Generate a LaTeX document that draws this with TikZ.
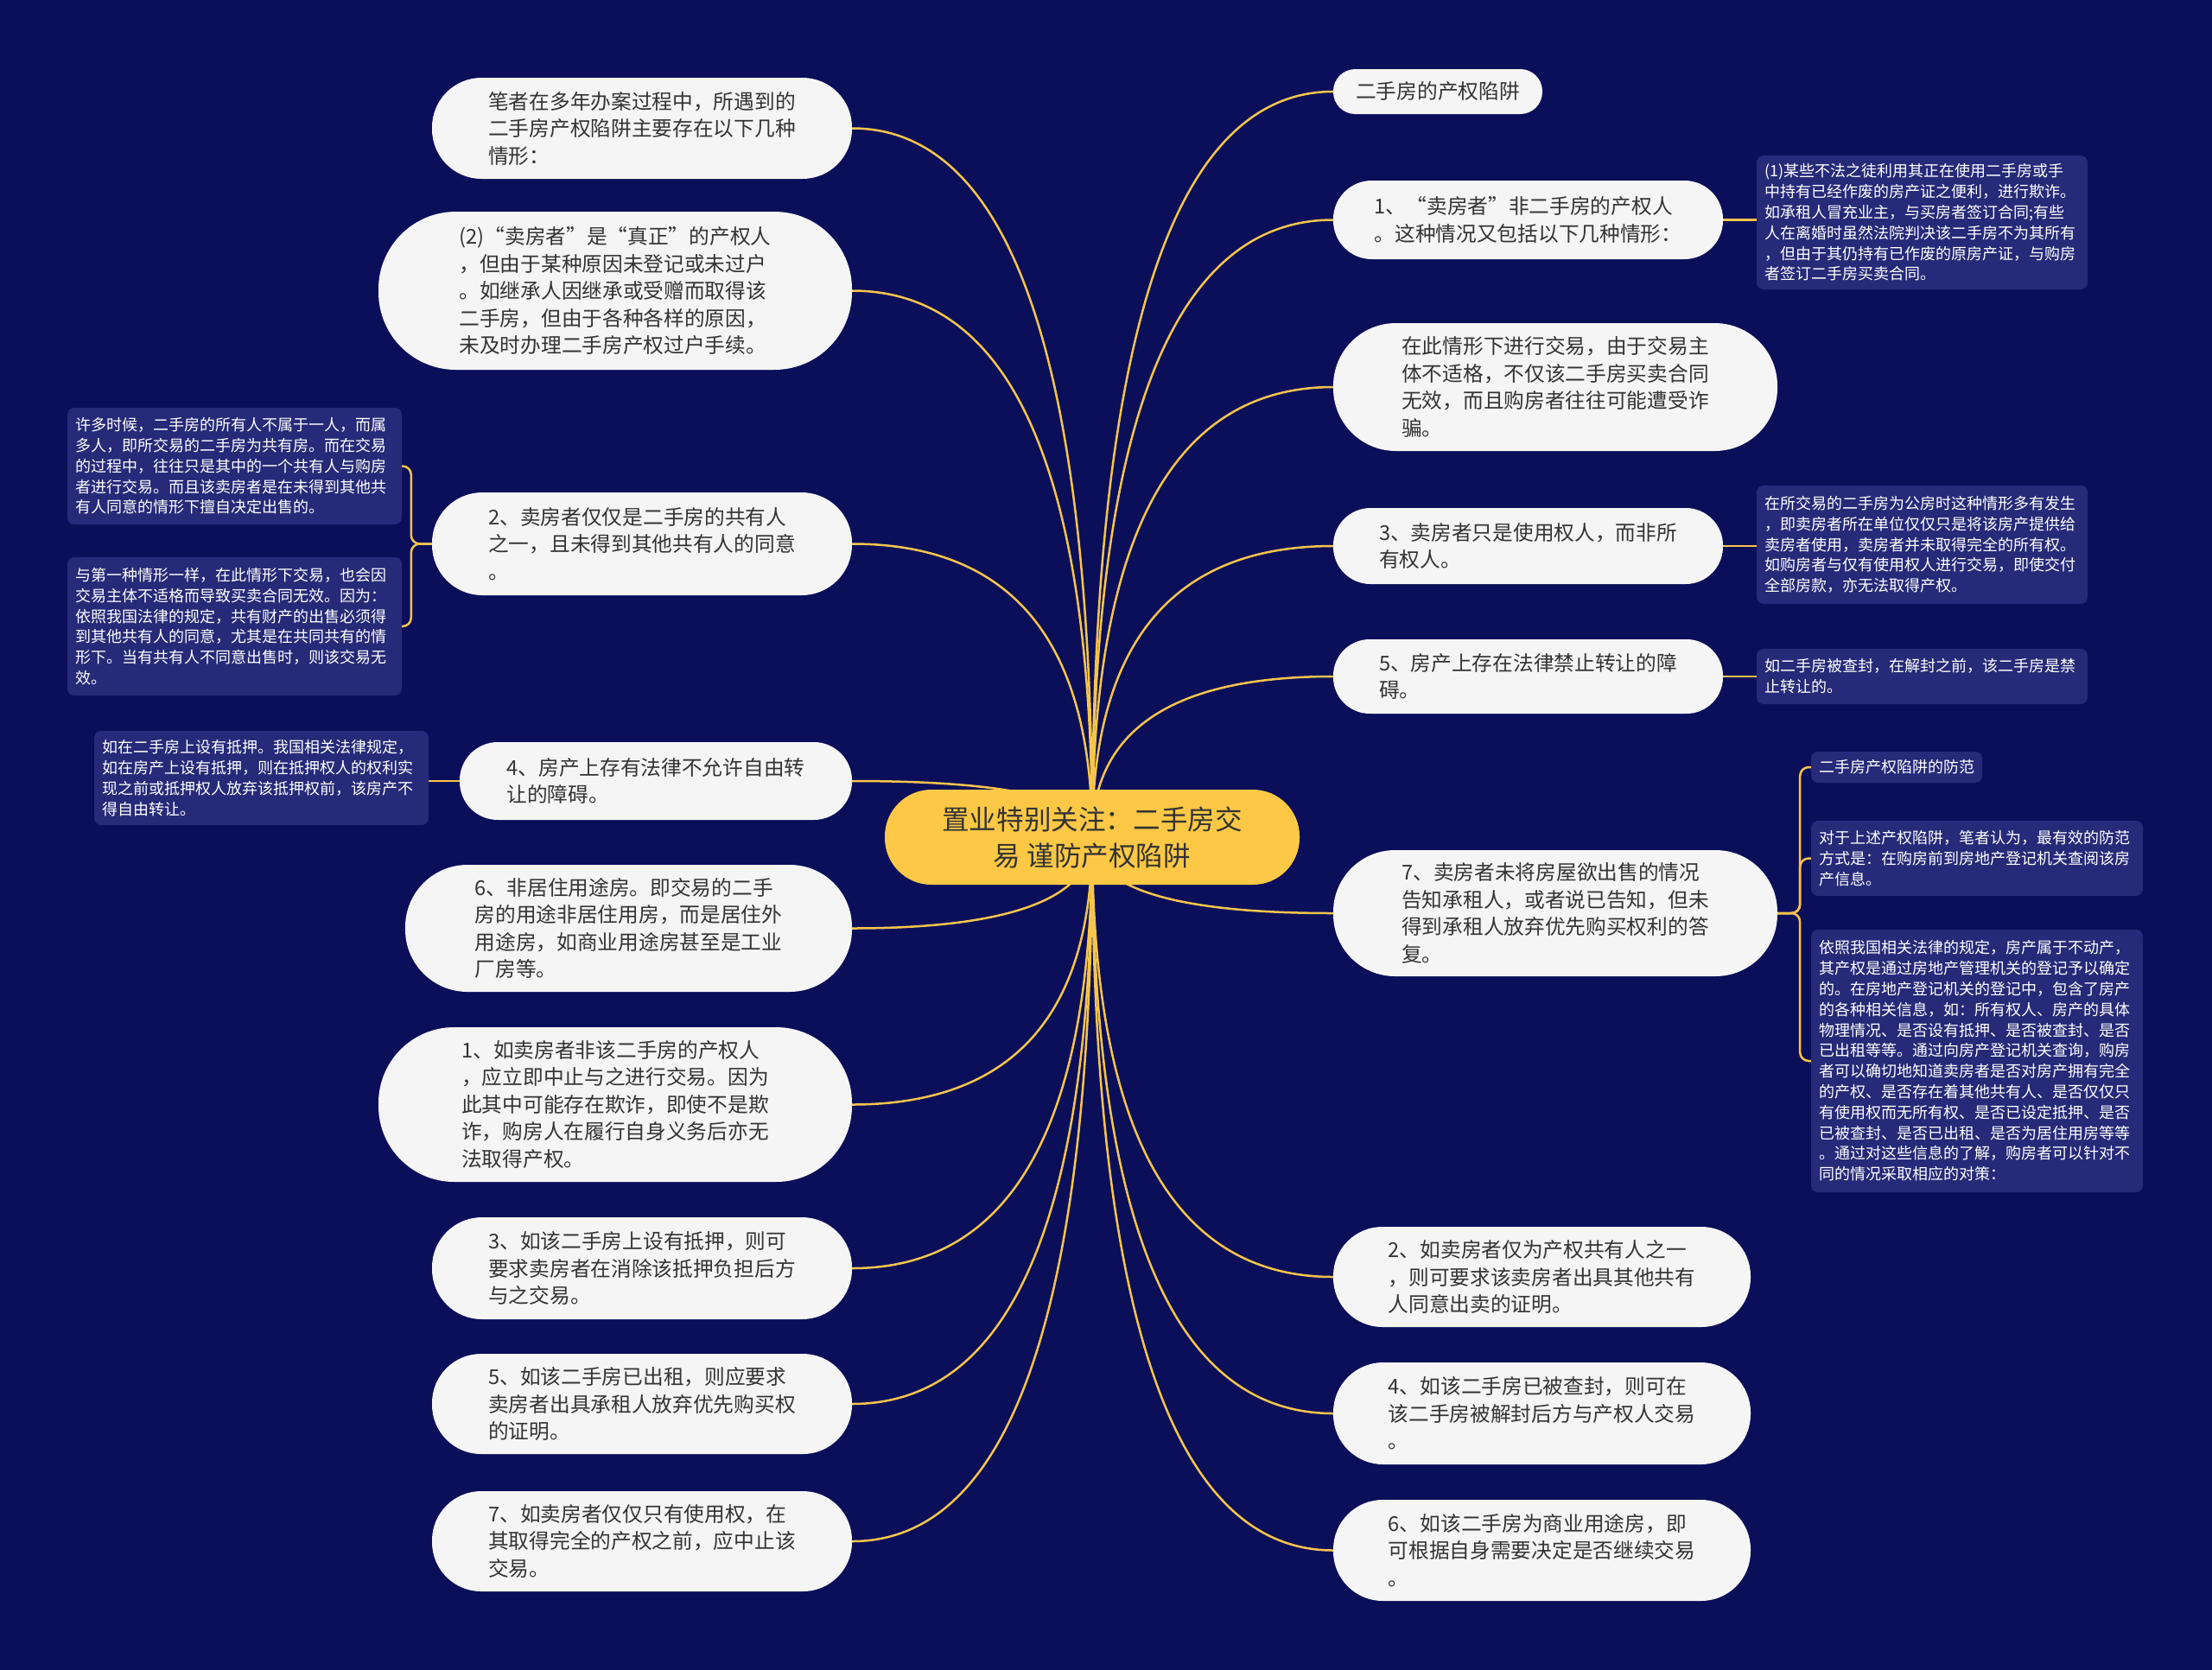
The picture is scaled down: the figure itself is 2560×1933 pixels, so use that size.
\documentclass[tikz,border=0pt]{standalone}
\usepackage{fontspec}
\setmainfont{Noto Sans CJK SC}
\usetikzlibrary{calc}
\definecolor{bgc}{HTML}{0B0F5A}
\definecolor{notec}{HTML}{262A78}
\definecolor{pillc}{HTML}{F5F5F5}
\definecolor{goldc}{HTML}{FCC846}
\definecolor{linec}{HTML}{F7C54C}
\definecolor{txtc}{HTML}{333333}
\pgfdeclarelayer{bgl}
\pgfsetlayers{bgl,main}
\tikzset{
  pill/.style n args={2}{fill=pillc, text=txtc, inner sep=0pt,
    minimum width=#1pt, minimum height=#2pt, rounded corners=#2*0.49pt,
    align=left, font=\fontsize{23.7}{31.5}\selectfont},
  rootbox/.style={fill=goldc, text=txtc, inner sep=0pt,
    minimum width=480pt, minimum height=110pt, rounded corners=54pt,
    align=center, font=\fontsize{31.6}{42}\selectfont},
  notebox/.style={fill=notec, text=white, rounded corners=8pt,
    inner xsep=9pt, inner ysep=0pt, align=left,
    font=\fontsize{18}{23.8}\selectfont},
  link/.style={draw=linec, line width=2.5pt},
}
\newcommand\mmlink[1]{\draw[link] (root.center) .. controls ($(root.center)!0.6667!(root.center |- #1)$) and ($(#1)!0.6667!(root.center |- #1)$) .. (#1);}
\begin{document}
\begin{tikzpicture}[x=1pt,y=-1pt]
\begin{pgfonlayer}{bgl}
\fill[bgc] (0,0) rectangle (2560,1933);
\end{pgfonlayer}
\useasboundingbox (0,0) rectangle (2560,1933);

\node[rootbox] (root) at (1264,969) {置业特别关注：二手房交\\易 谨防产权陷阱};

% left side
\node[pill={486}{117}] (L1) at (743,148.5) {笔者在多年办案过程中，所遇到的\\二手房产权陷阱主要存在以下几种\\情形：};
\node[pill={548}{183}] (L2) at (712,336.5) {(2)“卖房者”是“真正”的产权人\\，但由于某种原因未登记或未过户\\。如继承人因继承或受赠而取得该\\二手房，但由于各种各样的原因，\\未及时办理二手房产权过户手续。};
\node[pill={486}{119}] (L3) at (743,629.5) {2、卖房者仅仅是二手房的共有人\\之一，且未得到其他共有人的同意\\。};
\node[pill={454}{90}] (L4) at (759,904) {4、房产上存有法律不允许自由转\\让的障碍。};
\node[pill={517}{147}] (L5) at (727.5,1074.5) {6、非居住用途房。即交易的二手\\房的用途非居住用房，而是居住外\\用途房，如商业用途房甚至是工业\\厂房等。};
\node[pill={548}{179}] (L6) at (712,1278.5) {1、如卖房者非该二手房的产权人\\，应立即中止与之进行交易。因为\\此其中可能存在欺诈，即使不是欺\\诈，购房人在履行自身义务后亦无\\法取得产权。};
\node[pill={486}{118}] (L7) at (743,1468) {3、如该二手房上设有抵押，则可\\要求卖房者在消除该抵押负担后方\\与之交易。};
\node[pill={486}{116}] (L8) at (743,1625) {5、如该二手房已出租，则应要求\\卖房者出具承租人放弃优先购买权\\的证明。};
\node[pill={486}{116}] (L9) at (743,1784) {7、如卖房者仅仅只有使用权，在\\其取得完全的产权之前，应中止该\\交易。};

% right side
\node[pill={242}{52}] (R1) at (1664,106) {二手房的产权陷阱};
\node[pill={451}{91}] (R2) at (1768.5,254.5) {1、“卖房者”非二手房的产权人\\。这种情况又包括以下几种情形：};
\node[pill={514}{148}] (R3) at (1800,448) {在此情形下进行交易，由于交易主\\体不适格，不仅该二手房买卖合同\\无效，而且购房者往往可能遭受诈\\骗。};
\node[pill={451}{88}] (R4) at (1768.5,632) {3、卖房者只是使用权人，而非所\\有权人。};
\node[pill={451}{86}] (R5) at (1768.5,783) {5、房产上存在法律禁止转让的障\\碍。};
\node[pill={514}{146}] (R6) at (1800,1057) {7、卖房者未将房屋欲出售的情况\\告知承租人，或者说已告知，但未\\得到承租人放弃优先购买权利的答\\复。};
\node[pill={483}{116}] (R7) at (1784.5,1478) {2、如卖房者仅为产权共有人之一\\，则可要求该卖房者出具其他共有\\人同意出卖的证明。};
\node[pill={483}{118}] (R8) at (1784.5,1636) {4、如该二手房已被查封，则可在\\该二手房被解封后方与产权人交易\\。};
\node[pill={483}{117}] (R9) at (1784.5,1794.5) {6、如该二手房为商业用途房，即\\可根据自身需要决定是否继续交易\\。};

% notes
\node[notebox, text width=365pt, minimum height=155pt] (N1) at (2224.5,257.5) {(1)某些不法之徒利用其正在使用二手房或手\\中持有已经作废的房产证之便利，进行欺诈。\\如承租人冒充业主，与买房者签订合同;有些\\人在离婚时虽然法院判决该二手房不为其所有\\，但由于其仍持有已作废的原房产证，与购房\\者签订二手房买卖合同。};
\node[notebox, text width=365pt, minimum height=137pt] (N2) at (2224.5,630.5) {在所交易的二手房为公房时这种情形多有发生\\，即卖房者所在单位仅仅只是将该房产提供给\\卖房者使用，卖房者并未取得完全的所有权。\\如购房者与仅有使用权人进行交易，即使交付\\全部房款，亦无法取得产权。};
\node[notebox, text width=365pt, minimum height=64pt] (N3) at (2224.5,783) {如二手房被查封，在解封之前，该二手房是禁\\止转让的。};
\node[notebox, text width=180pt, minimum height=36pt] (N4) at (2195,888) {二手房产权陷阱的防范};
\node[notebox, text width=366pt, minimum height=87pt] (N5) at (2288,993.5) {对于上述产权陷阱，笔者认为，最有效的防范\\方式是：在购房前到房地产登记机关查阅该房\\产信息。};
\node[notebox, text width=366pt, minimum height=304pt] (N6) at (2288,1228) {依照我国相关法律的规定，房产属于不动产，\\其产权是通过房地产管理机关的登记予以确定\\的。在房地产登记机关的登记中，包含了房产\\的各种相关信息，如：所有权人、房产的具体\\物理情况、是否设有抵押、是否被查封、是否\\已出租等等。通过向房产登记机关查询，购房\\者可以确切地知道卖房者是否对房产拥有完全\\的产权、是否存在着其他共有人、是否仅仅只\\有使用权而无所有权、是否已设定抵押、是否\\已被查封、是否已出租、是否为居住用房等等\\。通过对这些信息的了解，购房者可以针对不\\同的情况采取相应的对策：};
\node[notebox, text width=369pt, minimum height=135pt] (N7) at (271.5,539.5) {许多时候，二手房的所有人不属于一人，而属\\多人，即所交易的二手房为共有房。而在交易\\的过程中，往往只是其中的一个共有人与购房\\者进行交易。而且该卖房者是在未得到其他共\\有人同意的情形下擅自决定出售的。};
\node[notebox, text width=369pt, minimum height=160pt] (N8) at (271.5,725) {与第一种情形一样，在此情形下交易，也会因\\交易主体不适格而导致买卖合同无效。因为：\\依照我国法律的规定，共有财产的出售必须得\\到其他共有人的同意，尤其是在共同共有的情\\形下。当有共有人不同意出售时，则该交易无\\效。};
\node[notebox, text width=369pt, minimum height=109pt] (N9) at (302.5,900.5) {如在二手房上设有抵押。我国相关法律规定，\\如在房产上设有抵押，则在抵押权人的权利实\\现之前或抵押权人放弃该抵押权前，该房产不\\得自由转让。};

\begin{pgfonlayer}{bgl}
\mmlink{L1.east}
\mmlink{L2.east}
\mmlink{L3.east}
\mmlink{L4.east}
\mmlink{L5.east}
\mmlink{L6.east}
\mmlink{L7.east}
\mmlink{L8.east}
\mmlink{L9.east}
\mmlink{R1.west}
\mmlink{R2.west}
\mmlink{R3.west}
\mmlink{R4.west}
\mmlink{R5.west}
\mmlink{R6.west}
\mmlink{R7.west}
\mmlink{R8.west}
\mmlink{R9.west}
\draw[link] (R2.east) -- (R2.east -| N1.west);
\draw[link] (R4.east) -- (R4.east -| N2.west);
\draw[link] (R5.east) -- (R5.east -| N3.west);
\draw[link] (L4.west) -- (L4.west -| N9.east);
\draw[link, rounded corners=10pt] (R6.east) -- ++(26,0) |- (N4.west);
\draw[link, rounded corners=10pt] (R6.east) -- ++(26,0) |- (N5.west);
\draw[link, rounded corners=10pt] (R6.east) -- ++(26,0) |- (N6.west);
\draw[link, rounded corners=10pt] (L3.west) -- ++(-24,0) |- (N7.east);
\draw[link, rounded corners=10pt] (L3.west) -- ++(-24,0) |- (N8.east);
\end{pgfonlayer}
\end{tikzpicture}
\end{document}
